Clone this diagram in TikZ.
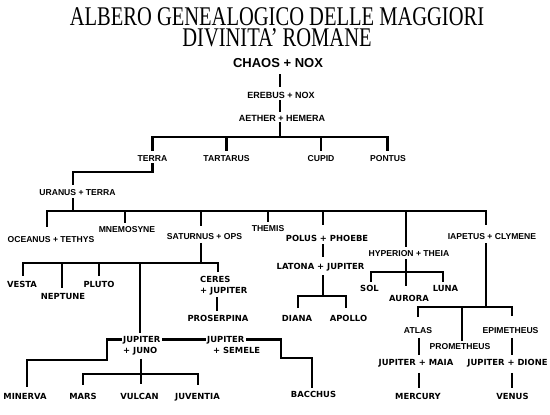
\documentclass[tikz,border=0pt]{standalone}
\usepackage{graphicx}
\usepackage{fontspec}
\usetikzlibrary{calc}
\newfontfamily\lsans{Liberation Sans}
\newfontfamily\dvsans{DejaVu Sans}
\newfontfamily\lserif{Liberation Serif}
\tikzset{
  ln/.style={line width=2.6pt},
  ttl/.style={font=\lserif\fontsize{27}{27}\selectfont, anchor=base, inner sep=0pt},
  ar/.style={font=\lsans\bfseries\fontsize{8.6}{10}\selectfont, inner sep=0pt, text height=6.15pt, text depth=0pt},
  vb/.style={font=\dvsans\bfseries\fontsize{8.4}{11}\selectfont, inner sep=0pt, text height=6.15pt, text depth=0pt},
  vbm/.style={font=\dvsans\bfseries\fontsize{8.4}{11}\selectfont, inner sep=0pt, align=left, anchor=north west},
}
\begin{document}
\begin{tikzpicture}[x=1pt,y=-1pt]
\useasboundingbox (0,0) rectangle (550,415);
% title
\node[ttl] (t1) at (277,25.5) {\scalebox{0.76}[1]{ALBERO GENEALOGICO DELLE MAGGIORI}};
\node[ttl] (t2) at (277,46.5) {\scalebox{0.76}[1]{DIVINITA’ ROMANE}};
% top
\node[ar, font=\lsans\bfseries\fontsize{13}{15}\selectfont, text height=9.3pt] (chaos) at (278,63.3) {CHAOS + NOX};
\node[ar, font=\lsans\bfseries\fontsize{9}{11}\selectfont, text height=6.45pt] (erebus) at (281,95) {EREBUS + NOX};
\node[ar, font=\lsans\bfseries\fontsize{9}{11}\selectfont, text height=6.45pt] (aether) at (282,118) {AETHER + HEMERA};
\coordinate (j0) at (280,137);
\draw[ln] ($(chaos.south -| j0)+(0,6)$) -- ($(erebus.north -| j0)+(0,-4.5)$);
\draw[ln] ($(erebus.south -| j0)+(0,2)$) -- ($(aether.north -| j0)+(0,-3)$);
\draw[ln] ($(aether.south -| j0)+(0,0.5)$) -- (j0);
% level 1
\node[ar] (terra) at (152.5,158) {TERRA};
\node[ar] (tart) at (226.5,158) {TARTARUS};
\node[ar] (cupid) at (321,158) {CUPID};
\node[ar] (pontus) at (388,158) {PONTUS};
\foreach \n/\dx in {terra/0, tart/0, cupid/0, pontus/-0.5}
  \draw[ln] ($(\n.north)+(\dx,-4)$) |- (j0);
% uranus
\node[ar] (uranus) at (77.5,192.5) {URANUS + TERRA};
\coordinate (u1) at (73,172);
\coordinate (j2) at (73,211);
\draw[ln] ($(terra.south)+(0,2)$) |- (u1) -- ($(uranus.north -| u1)+(0,-4.4)$);
\draw[ln] ($(uranus.south -| j2)+(0,2.5)$) -- (j2);
% level 2
\node[ar] (ocean) at (51,239.5) {OCEANUS + TETHYS};
\node[ar] (mnemo) at (127,229) {MNEMOSYNE};
\node[ar] (saturn) at (204.5,236) {SATURNUS + OPS};
\node[ar] (themis) at (268,228.5) {THEMIS};
\node[vb] (polus) at (327,238) {POLUS + PHOEBE};
\node[ar] (hyper) at (409,253) {HYPERION + THEIA};
\node[ar] (iap) at (492,236) {IAPETUS + CLYMENE};
\foreach \n/\dx/\g in {ocean/-4/9.4, mnemo/-2/3, saturn/-3.5/7, themis/0/3.4, polus/-4/10, hyper/-3/3, iap/-6/8}
  \draw[ln] ($(\n.north)+(\dx,-\g)$) |- (j2);
% saturnus
\coordinate (j3) at (201,263);
\draw[ln] ($(saturn.south)+(-3.5,3.5)$) -- (j3);
\node[vb] (vesta) at (22,284) {VESTA};
\node[vb] (nept) at (63,296) {NEPTUNE};
\node[vb] (pluto) at (99,284) {PLUTO};
\node[vbm] (ceres) at (200,276) {CERES\\+ JUPITER};
\node[vb] (prosp) at (218,318.5) {PROSERPINA};
\node[vbm] (juno) at (123,336.4) {JUPITER\\+ JUNO};
\foreach \n/\dx/\g in {vesta/1/5, nept/-1/5, pluto/0/4.5}
  \draw[ln] ($(\n.north)+(\dx,-\g)$) |- (j3);
\draw[ln] ($(ceres.north west)+(18,-4)$) |- (j3);
\draw[ln] ($(juno.north west)+(17,-3.5)$) |- (j3);
\draw[ln] ($(prosp.north |- ceres.south)+(-1,2)$) -- ($(prosp.north)+(-1,-4)$);
% jupiter + juno
\node[vbm] (semele) at (207,336.4) {JUPITER\\\hspace*{6pt}+ SEMELE};
\node[vb] (minerva) at (25,396) {MINERVA};
\node[vb] (mars) at (83,396) {MARS};
\node[vb] (vulcan) at (139.5,396) {VULCAN};
\node[vb] (juvent) at (197.5,396) {JUVENTIA};
\node[vb] (bacchus) at (313.5,394) {BACCHUS};
\coordinate (m1) at (107,360);
\coordinate (b1) at (281,358);
\coordinate (j5) at (141,374);
\draw[ln] ($(juno.north west)+(-1.5,3.1)$) -| (m1) -| ($(minerva.north)+(2,-6)$);
\draw[ln] ($(juno.north east)+(1.5,3.1)$) -- ($(semele.north west)+(-1.5,3.1)$);
\draw[ln] ($(semele.north west)+(39,3.1)$) -| (b1) -| ($(bacchus.north)+(-1.5,-3)$);
\draw[ln] ($(j5 |- juno.south)+(0,3)$) -- ($(vulcan.north -| j5)+(0,-9)$);
\foreach \n/\dx in {mars/0, juvent/0.5}
  \draw[ln] ($(\n.north)+(\dx,-8)$) |- (j5);
% polus
\node[vb] (latona) at (320.5,266) {LATONA + JUPITER};
\coordinate (j6) at (323,296);
\node[vb] (diana) at (297,318.5) {DIANA};
\node[vb] (apollo) at (348.5,318.5) {APOLLO};
\draw[ln] ($(polus.south)+(-4,3)$) -- ($(latona.north)+(2.5,-6)$);
\draw[ln] ($(latona.south)+(2.5,6)$) -- (j6);
\foreach \n/\dx in {diana/1, apollo/-2.5}
  \draw[ln] ($(\n.north)+(\dx,-7)$) |- (j6);
% hyperion
\coordinate (j7) at (406,272);
\node[vb] (sol) at (369.5,288) {SOL};
\node[vb] (aurora) at (409,298.5) {AURORA};
\node[vb] (luna) at (445.5,288) {LUNA};
\draw[ln] ($(hyper.south)+(-3,3)$) -- ($(aurora.north)+(-3,-9)$);
\foreach \n/\dx in {sol/1.5, luna/-2.5}
  \draw[ln] ($(\n.north)+(\dx,-3)$) |- (j7);
% iapetus
\coordinate (j8) at (486,307);
\draw[ln] ($(iap.south)+(-6,4)$) -- (j8);
\node[ar] (atlas) at (418,330.5) {ATLAS};
\node[ar] (prom) at (460,346.5) {PROMETHEUS};
\node[ar] (epim) at (510.5,330.5) {EPIMETHEUS};
\foreach \n/\dx/\g in {atlas/0/10, prom/2/2.5, epim/1.5/11}
  \draw[ln] ($(\n.north)+(\dx,-\g)$) |- (j8);
\node[vb] (maia) at (416,362.5) {JUPITER + MAIA};
\node[vb] (mercury) at (418,396) {MERCURY};
\node[vb] (dione) at (507.5,362.5) {JUPITER + DIONE};
\node[vb] (venus) at (512.5,396) {VENUS};
\draw[ln] ($(atlas.south)+(1,4)$) -- ($(maia.north)+(3,-4.5)$);
\draw[ln] ($(maia.south)+(3,7)$) -- ($(mercury.north)+(1,-5)$);
\draw[ln] ($(epim.south)+(1.5,4)$) -- ($(dione.north)+(4.5,-4.5)$);
\draw[ln] ($(dione.south)+(4.5,7)$) -- ($(venus.north)+(-0.5,-5)$);
\end{tikzpicture}
\end{document}
